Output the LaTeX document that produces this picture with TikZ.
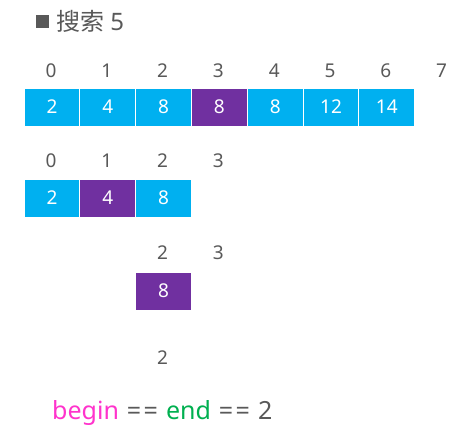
\documentclass[tikz,border=0pt]{standalone}
\usepackage{fontspec}
\setmainfont{Noto Sans}
\newfontfamily\cjk{Noto Sans CJK SC}
\definecolor{cyanc}{HTML}{00B0F0}
\definecolor{purp}{HTML}{7030A0}
\definecolor{txt}{HTML}{595959}
\definecolor{mag}{HTML}{FF33CC}
\definecolor{grn}{HTML}{00B050}
\tikzset{
  cell/.style={draw=white, line width=0.8pt, minimum width=56pt, minimum height=38pt, inner sep=0pt, text=white, font=\fontsize{19}{19}\selectfont},
  blue/.style={cell, fill=cyanc},
  hit/.style={cell, fill=purp},
  idx/.style={text=txt, font=\fontsize{19}{19}\selectfont, inner sep=0pt}
}
\newcommand{\eqeq}{=\kern2.5pt=}
\begin{document}
\begin{tikzpicture}[x=1pt,y=-1pt]
\useasboundingbox[fill=white] (0,0) rectangle (456,437);
% title
\node[fill=txt, minimum size=13pt, inner sep=0pt] (sq) at (42,21) {};
\node[anchor=west, text=txt, inner sep=0pt, font=\fontsize{24}{24}\selectfont] (title) at (56,21) {{\cjk 搜索} 5};
% row 1
\foreach \i/\v/\s in {0/2/blue,1/4/blue,2/8/blue,3/8/hit,4/8/blue,5/12/blue,6/14/blue}{
  \node[\s] (a\i) at ({52+\i*55.8},107) {\v};
}
\foreach \i in {0,...,7}{
  \node[idx] (ia\i) at ({51+\i*55.8},71) {\i};
}
% row 2
\foreach \i/\v/\s in {0/2/blue,1/4/hit,2/8/blue}{
  \node[\s] (b\i) at ({52+\i*55.8},198) {\v};
}
\foreach \i in {0,...,3}{
  \node[idx] (ib\i) at ({51+\i*55.8},161) {\i};
}
% row 3
\node[hit] (c2) at (163.6,291) {8};
\node[idx] (ic2) at (162.6,253) {2};
\node[idx] (ic3) at (218.4,253) {3};
% row 4
\node[idx] (id2) at (162.6,358) {2};
% bottom
\node[anchor=west, inner sep=0pt, text=txt, font=\fontsize{25}{25}\selectfont] (res) at (52,413) {\textcolor{mag}{begin}\hspace{8pt}\eqeq\hspace{8pt}\textcolor{grn}{end}\hspace{8pt}\eqeq\hspace{8pt}2};
\end{tikzpicture}
\end{document}
